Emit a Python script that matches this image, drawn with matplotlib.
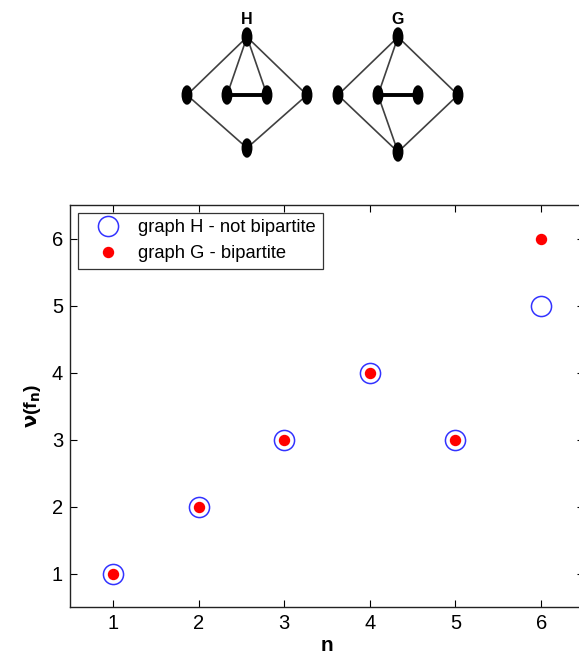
import matplotlib
matplotlib.use("Agg")
import matplotlib.pyplot as plt
from matplotlib.patches import Ellipse
import numpy as np

plt.rcParams['font.family'] = ['Liberation Sans', 'DejaVu Sans']

# ---- data ----
n_values = [1, 2, 3, 4, 5, 6]
nu_H = [1, 2, 3, 4, 3, 5]   # graph H - not bipartite
nu_G = [1, 2, 3, 4, 3, 6]   # graph G - bipartite
x_ticks = [1, 2, 3, 4, 5, 6]
y_ticks = [1, 2, 3, 4, 5, 6]
label_H = "graph H - not bipartite"
label_G = "graph G - bipartite"

# graph diagrams (node layout in figure pixels)
H_nodes = {"top": (247, 37), "left": (187, 95), "il": (227, 95), "ir": (267, 95),
           "right": (307, 95), "bottom": (247, 148)}
H_edges = [("top", "left"), ("top", "right"), ("left", "bottom"), ("right", "bottom"),
           ("top", "il"), ("top", "ir")]
H_thick = [("il", "ir")]
G_nodes = {"top": (398, 37), "left": (338, 95), "il": (378, 95), "ir": (418, 95),
           "right": (458, 95), "bottom": (398, 152)}
G_edges = [("top", "left"), ("top", "right"), ("left", "bottom"), ("right", "bottom"),
           ("top", "il"), ("il", "bottom")]
G_thick = [("il", "ir")]

W, H = 579, 657
fig = plt.figure(figsize=(W / 100, H / 100), dpi=100)

# ---- diagram axes (pixel coordinates) ----
dax = fig.add_axes([0, 0, 1, 1])
dax.set_xlim(0, W)
dax.set_ylim(H, 0)
dax.axis("off")
dax.patch.set_alpha(0)

def draw_graph(nodes, edges, thick, title):
    for a, b in edges:
        (x1, y1), (x2, y2) = nodes[a], nodes[b]
        dax.plot([x1, x2], [y1, y2], color="#404040", lw=1.2, zorder=1)
    for a, b in thick:
        (x1, y1), (x2, y2) = nodes[a], nodes[b]
        dax.plot([x1, x2], [y1, y2], color="black", lw=2.8, zorder=1)
    for (x, y) in nodes.values():
        dax.add_patch(Ellipse((x, y), 9.5, 18, facecolor="black", edgecolor="black", zorder=2))
    tx, ty = nodes["top"]
    dax.text(tx, ty - 17, title, ha="center", va="center", fontsize=11.5, fontweight="bold")

draw_graph(H_nodes, H_edges, H_thick, "H")
draw_graph(G_nodes, G_edges, G_thick, "G")

# ---- main plot ----
left, right, top, bottom = 70, 584, 205, 607
ax = fig.add_axes([left / W, 1 - bottom / H, (right - left) / W, (bottom - top) / H])
ax.plot(n_values, nu_H, linestyle="none", marker="o", markersize=14.5,
        markerfacecolor="none", markeredgecolor="#3333ff", markeredgewidth=1.1, label=label_H)
ax.plot(n_values, nu_G, linestyle="none", marker="o", markersize=7.2,
        markerfacecolor="red", markeredgecolor="red", label=label_G)
ax.set_xlim(0.5, 6.5)
ax.set_ylim(0.5, 6.5)
ax.set_xticks(x_ticks)
ax.set_yticks(y_ticks)
ax.tick_params(direction="in", length=5, width=0.8, labelsize=14.5, top=True, right=True,
               pad=5, colors="black")
for s in ax.spines.values():
    s.set_linewidth(1.0)
    s.set_color("#222222")
ax.set_xlabel("n", fontsize=15, fontweight="bold", labelpad=2)
ax.set_ylabel(r"$\mathbf{\nu}$(f$_\mathbf{n}$)", fontsize=14, fontweight="bold", labelpad=6)

leg = ax.legend(loc="upper left", bbox_to_anchor=((78 - left) / (right - left), 1 - (213 - top) / (bottom - top)),
                borderaxespad=0, fontsize=13.2, frameon=True, fancybox=False, edgecolor="black",
                handletextpad=0.35, handlelength=2.6, borderpad=0.35, labelspacing=0.48)
leg.get_frame().set_linewidth(0.9)

fig.savefig("out.png", dpi=100)
